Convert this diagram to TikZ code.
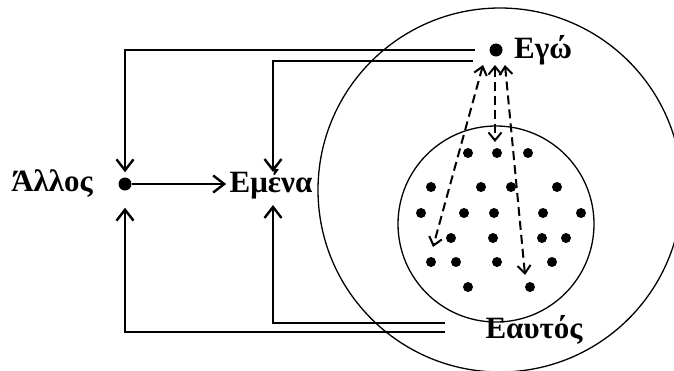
\documentclass[tikz,border=0pt]{standalone}
\usepackage{fontspec}
\setmainfont{Liberation Serif}
\usetikzlibrary{arrows.meta}

\begin{document}
\begin{tikzpicture}[x=1pt,y=-1pt,
        every node/.style = {font=\bfseries\fontsize{31}{34}\selectfont},
        spot/.style = {circle, fill=black, inner sep=0pt, minimum size=13pt},
        seed/.style = {circle, fill=black, inner sep=0pt, minimum size=10pt},
        link/.style = {line width=2.4pt, -{Straight Barb[length=11pt,width=17pt,line width=2.4pt]}},
        ray/.style = {line width=2pt, dash pattern=on 9pt off 5pt,
            {Straight Barb[length=8pt,width=13pt,line width=2pt]}-{Straight Barb[length=8pt,width=13pt,line width=2pt]}}]
    \useasboundingbox (0,0) rectangle (674,370);
    % the two circles
    \draw[line width=1.3pt] (500,190) circle[radius=182];
    \draw[line width=1.3pt] (496,224) circle[radius=98];
    % labels and dots
    \node (allos) at (52,184) {Άλλος};
    \node[spot] (allosdot) at (125,184) {};
    \node (emena) at (271,184) {Εμένα};
    \node[spot] (egodot) at (496,50) {};
    \node[anchor=west,xshift=8pt] (ego) at (egodot.east) {Εγώ};
    \node (eautos) at (534,330) {Εαυτός};
    % ends of the feedback lines
    \coordinate (egoout) at (475,50);
    \coordinate (egoin) at (473,61);
    \coordinate (selfout) at (445,332);
    \coordinate (selfin) at (445,323);
    \coordinate (emtop) at (273,172);
    \coordinate (embot) at (273,205);
    \draw[link] (allosdot) -- (emena);
    \draw[link] (egoout) -| ([yshift=5pt]allosdot.north);
    \draw[link] (selfout) -| ([yshift=-17pt]allosdot.south);
    \draw[link] (egoin) -| (emtop);
    \draw[link] (selfin) -| (embot);
    % dots inside the self
    \foreach \x/\y in {468/153, 497/153, 528/153,
            431/187, 481/187, 511/187, 557/187,
            421/213, 464/213, 494/213, 543/213, 581/213,
            451/238, 493/238, 542/238, 566/238,
            431/262, 456/262, 497/262, 552/262,
            468/287, 530/287}
        \node[seed] at (\x,\y) {};
    % links between ego and the self
    \coordinate (up1) at (483,65);
    \coordinate (up2) at (495,65);
    \coordinate (up3) at (505,65);
    \coordinate (down1) at (433,247);
    \coordinate (down2) at (495,142);
    \coordinate (down3) at (525,275);
    \draw[ray] (up1) -- (down1);
    \draw[ray] (up2) -- (down2);
    \draw[ray] (up3) -- (down3);
\end{tikzpicture}
\end{document}
